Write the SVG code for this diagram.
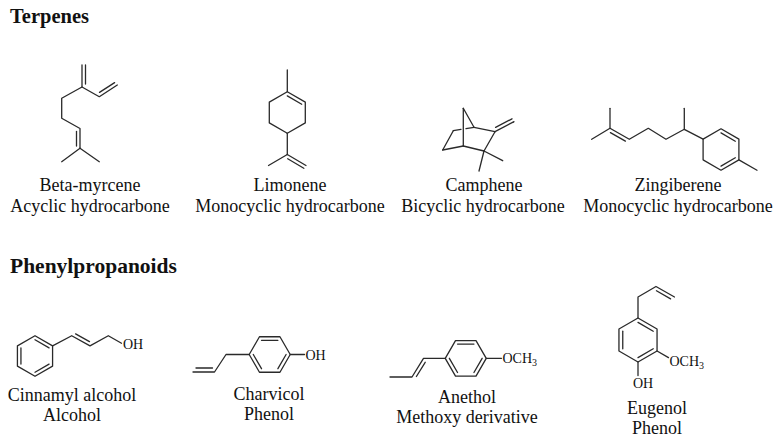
<svg xmlns="http://www.w3.org/2000/svg" width="781" height="445" viewBox="0 0 781 445">
<style>
line,polyline,polygon{stroke:#2a2a2a;stroke-width:1.3;fill:none;stroke-linecap:round;stroke-linejoin:round}
text{font-family:"Liberation Serif","Times New Roman",serif;fill:#111}
.h{font-size:20px;font-weight:bold}
.lb{font-size:18px;text-anchor:middle}
.at{font-size:14px}
.sub{font-size:10px}
</style>
<rect width="781" height="445" fill="#fff"/>
<text class="h" x="10" y="23" style="font-size:20.5px">Terpenes</text>
<text class="h" x="10" y="273" style="font-size:21.5px">Phenylpropanoids</text>

<g id="beta-myrcene">
<polyline points="117.3,85 99.3,96.7 82,87 61.7,98.3 61.7,118.3 80,128.5 80,148.3"/>
<line x1="82" y1="87" x2="82" y2="65"/>
<line x1="85.5" y1="84" x2="85.5" y2="65"/>
<line x1="99.5" y1="92.4" x2="114.6" y2="82.6"/>
<line x1="76.5" y1="131.5" x2="76.5" y2="146"/>
<line x1="80" y1="148.3" x2="61.7" y2="161.7"/>
<line x1="80" y1="148.3" x2="99.3" y2="161.7"/>
<text class="lb" x="90" y="190.5">Beta-myrcene</text>
<text class="lb" x="90" y="211.5">Acyclic hydrocarbone</text>
</g>

<g id="limonene">
<polygon points="287.3,91.7 305.3,102.1 305.3,122.9 287.3,133.3 269.3,122.9 269.3,102.1"/>
<line x1="287.3" y1="95.9" x2="301.7" y2="104.2"/>
<line x1="287.3" y1="91.7" x2="287.3" y2="70"/>
<line x1="287.3" y1="133.3" x2="287.3" y2="154.5"/>
<line x1="287.3" y1="154.5" x2="268.5" y2="165.5"/>
<line x1="287.3" y1="154.5" x2="306" y2="165.5"/>
<line x1="287.7" y1="158.8" x2="303.8" y2="168.3"/>
<text class="lb" x="290" y="190.5">Limonene</text>
<text class="lb" x="290" y="211.5">Monocyclic hydrocarbone</text>
</g>

<g id="camphene">
<line x1="463.3" y1="108.3" x2="474" y2="127.3"/>
<line x1="463.3" y1="108.3" x2="463.3" y2="146"/>
<line x1="474" y1="127.3" x2="495" y2="131.7"/>
<line x1="495" y1="131.7" x2="484" y2="151"/>
<line x1="484" y1="151" x2="463.3" y2="146"/>
<line x1="463.3" y1="146" x2="442.7" y2="150"/>
<line x1="442.7" y1="150" x2="453.3" y2="130.7"/>
<line x1="453.3" y1="130.7" x2="461" y2="129.4"/>
<line x1="466" y1="128.6" x2="474" y2="127.3"/>
<line x1="495" y1="131.7" x2="514" y2="121.7"/>
<line x1="495.6" y1="127.4" x2="512" y2="118.8"/>
<line x1="484" y1="151" x2="502.7" y2="160.7"/>
<line x1="484" y1="151" x2="479" y2="171"/>
<text class="lb" x="484" y="190.5">Camphene</text>
<text class="lb" x="483" y="211.5">Bicyclic hydrocarbone</text>
</g>

<g id="zingiberene">
<polyline points="591.7,139.3 610,128.3 629.3,139.3 648.3,128.3 666,139.3 684.3,129.3 703.1,139.15"/>
<line x1="610" y1="128.3" x2="610" y2="108.3"/>
<line x1="610.4" y1="132.6" x2="625.4" y2="141.1"/>
<line x1="684.3" y1="129.3" x2="684.3" y2="108.3"/>
<polygon points="721,128.8 738.9,139.15 738.9,159.85 721,170.2 703.1,159.85 703.1,139.15"/>
<line x1="721" y1="132.9" x2="735.3" y2="141.2"/>
<line x1="735.3" y1="157.8" x2="721" y2="166.1"/>
<line x1="738.9" y1="159.85" x2="757" y2="170.2"/>
<text class="lb" x="678" y="190.5">Zingiberene</text>
<text class="lb" x="678" y="211.5">Monocyclic hydrocarbone</text>
</g>

<g id="cinnamyl-alcohol">
<polygon points="35,335.7 52.58,345.85 52.58,366.15 35,376.3 17.42,366.15 17.42,345.85"/>
<line x1="20.94" y1="347.88" x2="20.94" y2="364.12"/>
<line x1="35" y1="339.76" x2="49.06" y2="347.88"/>
<line x1="49.06" y1="364.12" x2="35" y2="372.24"/>
<polyline points="52.58,345.85 71.7,335.7 90,345.85 108.3,335.7 121.5,343.3"/>
<line x1="75.6" y1="333.85" x2="89.5" y2="341.6"/>
<text class="at" x="123" y="348.5">OH</text>
<text class="lb" x="72" y="401">Cinnamyl alcohol</text>
<text class="lb" x="72" y="421">Alcohol</text>
</g>

<g id="charvicol">
<polygon points="249.2,354.5 259.45,336.75 279.95,336.75 290.2,354.5 279.95,372.25 259.45,372.25"/>
<line x1="261.5" y1="340.3" x2="277.9" y2="340.3"/>
<line x1="286.1" y1="354.5" x2="277.9" y2="368.7"/>
<line x1="261.5" y1="368.7" x2="253.3" y2="354.5"/>
<line x1="290.2" y1="354.5" x2="304.5" y2="354.5"/>
<text class="at" x="305.5" y="359.5">OH</text>
<polyline points="249.2,354.5 226,354.5 214.5,372 193,372"/>
<line x1="196" y1="368" x2="212.5" y2="368"/>
<text class="lb" x="269" y="400">Charvicol</text>
<text class="lb" x="269" y="420">Phenol</text>
</g>

<g id="anethol">
<polygon points="445.25,358.3 455.5,340.55 476,340.55 486.25,358.3 476,376.05 455.5,376.05"/>
<line x1="457.55" y1="344.1" x2="473.95" y2="344.1"/>
<line x1="482.15" y1="358.3" x2="473.95" y2="372.5"/>
<line x1="457.55" y1="372.5" x2="449.35" y2="358.3"/>
<line x1="486.25" y1="358.3" x2="501.5" y2="358.3"/>
<text class="at" x="502.5" y="363">OCH<tspan class="sub" dy="3">3</tspan></text>
<polyline points="445.25,358.3 423.5,358.3 412,377 390,377"/>
<line x1="425.2" y1="362.3" x2="416.4" y2="376.5"/>
<text class="lb" x="467" y="402.5">Anethol</text>
<text class="lb" x="467" y="422.5">Methoxy derivative</text>
</g>

<g id="eugenol">
<polygon points="638,318 657.05,329 657.05,351 638,362 618.95,351 618.95,329"/>
<line x1="638" y1="322.4" x2="653.24" y2="331.2"/>
<line x1="653.24" y1="348.8" x2="638" y2="357.6"/>
<line x1="622.76" y1="331.2" x2="622.76" y2="348.8"/>
<polyline points="638,318 638,297 656,286.5 674.5,297"/>
<line x1="656.44" y1="290.77" x2="670.6" y2="298.81"/>
<line x1="657.05" y1="351" x2="668.5" y2="357.6"/>
<text class="at" x="669.5" y="366">OCH<tspan class="sub" dy="3">3</tspan></text>
<line x1="638" y1="362" x2="638" y2="375.5"/>
<text class="at" x="633" y="388">OH</text>
<text class="lb" x="657" y="413.5">Eugenol</text>
<text class="lb" x="657" y="433.5">Phenol</text>
</g>
</svg>
